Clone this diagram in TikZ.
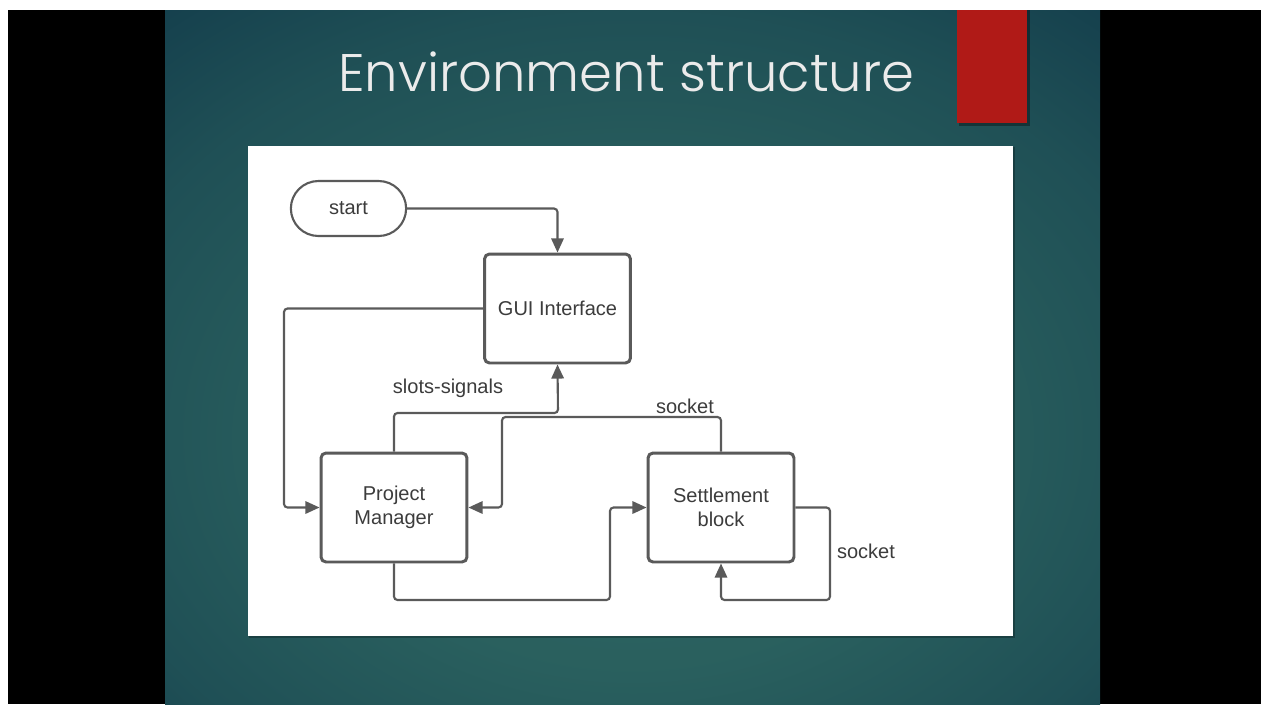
\documentclass[tikz,border=0pt]{standalone}
\usepackage{fontspec}
\setmainfont{Liberation Sans}
\newfontfamily\titlefont{Poppins}[UprightFont={* Light}]
\usetikzlibrary{arrows.meta}
\usetikzlibrary{positioning}
\usetikzlibrary{shapes.misc}

\definecolor{slidedark}{HTML}{113A4A}
\definecolor{slidelight}{HTML}{2D6561}
\definecolor{accentred}{HTML}{B01A17}
\definecolor{linegray}{HTML}{5A5A5A}
\definecolor{textgray}{HTML}{3C3C3C}
\pgfdeclareradialshading{slidebg}{\pgfpoint{0bp}{-8bp}}{%
  color(0bp)=(slidelight); color(16bp)=(slidelight!88!slidedark);
  color(30bp)=(slidelight!50!slidedark); color(42bp)=(slidedark);
  color(80bp)=(slidedark)}

\tikzset{
  block/.style={rectangle,rounded corners=0.1cm,draw=linegray,line width=1.7pt,
    minimum width=2.92cm,minimum height=2.18cm,align=center,text=textgray,
    font=\fontsize{11.4pt}{13.7pt}\selectfont},
  startbox/.style={rounded rectangle,draw=linegray,line width=1.2pt,
    minimum width=2.54cm,minimum height=1.1cm,text=textgray,
    font=\fontsize{11.4pt}{13.7pt}\selectfont},
  conn/.style={draw=linegray,line width=1.2pt,rounded corners=2pt,
    -{Triangle[length=8pt,width=7pt]}},
  lbl/.style={text=textgray,font=\fontsize{11.4pt}{13.7pt}\selectfont}
}

\begin{document}
\begin{tikzpicture}[x=0.02cm,y=-0.02cm]
\useasboundingbox (0,0) rectangle (1261,704);
% frame
\fill[white] (0,0) rectangle (1261,704);
\fill[black] (8,10) rectangle (1261,704);
\shade[shading=slidebg] (165,10) rectangle (1100,704);
% title and accent
\node[anchor=base west,text=white!92!black,inner sep=0pt] (title) at (338,91)
  {\resizebox{11.52cm}{!}{\titlefont Environment structure}};
\fill[black,opacity=0.35] (959,10) rectangle (1030,126);
\fill[accentred] (957,10) rectangle (1027,123);
% panel
\fill[black,opacity=0.25] (249,147) rectangle (1015,638);
\fill[white] (248,146) rectangle (1013,636);

% nodes
\node[startbox] (start) at (348.5,208.5) {start};
\node[block] (gui) at (557.5,308.5) {GUI Interface};
\node[block] (pm) at (394,507.5) {Project\\Manager};
\node[block] (sb) at (721,507.5) {Settlement\\block};

\coordinate (lft) at (284,508);
\coordinate (ss) at (558,413);
\coordinate (sk) at (502,417);
\coordinate (bt) at (610,600);
\coordinate (lp) at (830,600);

% connectors
\draw[conn] (start.east) -| (gui.north);
\draw[conn] (gui.west) -- (gui.west -| lft) |- (pm.west);
\draw[conn] (pm.north) |- (ss) -- (gui.south);
\draw[conn] (sb.north) |- (sk) |- (pm.east);
\draw[conn] (pm.south) |- (bt) |- (sb.west);
\draw[conn] (sb.east) -| (lp) -| (sb.south);

% labels
\node[lbl] (lslots) at (448,388) {slots-signals};
\node[lbl] (lsock1) at (685,406) {socket};
\node[lbl] (lsock2) at (866,551) {socket};

\end{tikzpicture}
\end{document}
